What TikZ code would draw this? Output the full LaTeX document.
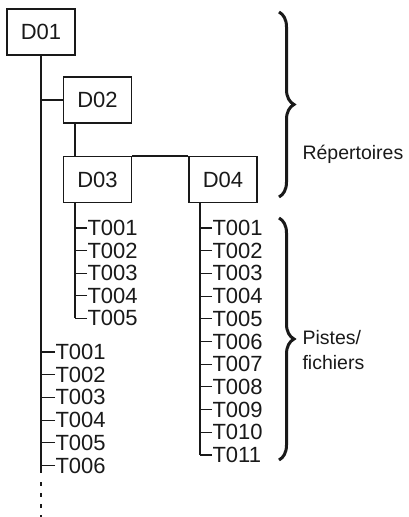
\documentclass[tikz,border=0pt]{standalone}
\usepackage{fontspec}
\setmainfont{Liberation Sans}
\usetikzlibrary{positioning,calc,decorations.pathreplacing}

\begin{document}
\begin{tikzpicture}[
    x=1pt, y=-1pt,
    line width=1.1pt, draw=black!90, text=black!90,
    dirbox/.style={rectangle, draw, minimum width=68pt, minimum height=46pt, font=\fontsize{22}{22}\selectfont},
    track/.style={anchor=west, inner sep=0pt, font=\fontsize{22}{22}\selectfont},
    side/.style={anchor=west, inner sep=0pt, align=left, font=\fontsize{19.5}{25}\selectfont},
    bigbrace/.style={decorate, decoration={brace, amplitude=15pt, aspect=0.5}, line width=3pt}
]
    \useasboundingbox (0,0) rectangle (409,517);

    % Directories
    \node[dirbox] (d01) at (41,32) {D01};
    \node[dirbox] (d02) at (97.5,100) {D02};
    \node[dirbox] (d03) at (97.5,179.5) {D03};
    \node[dirbox] (d04) at (223,179.5) {D04};

    % Trunks
    \coordinate (r1) at (41,473);
    \coordinate (r1dot) at (41,482);
    \coordinate (r1end) at (41,517);
    \coordinate (r3) at (75,203);
    \coordinate (r4) at (200,203);

    % Tracks
    \foreach \t [count=\i] in {T001,T002,T003,T004,T005,T006}
        \node[track] (a\i) at (55,{352+22.7*(\i-1)}) {\t};
    \foreach \t [count=\i] in {T001,T002,T003,T004,T005}
        \node[track] (b\i) at (87,{228+22.6*(\i-1)}) {\t};
    \foreach \t [count=\i] in {T001,T002,T003,T004,T005,T006,T007,T008,T009,T010,T011}
        \node[track] (c\i) at (212,{228+22.7*(\i-1)}) {\t};

    % Lines
    \draw (d01.south) -- (r1);
    \draw[dash pattern=on 4pt off 7pt] (r1dot) -- (r1end);
    \draw (d02.west) -- (d02.west -| d01.south);
    \draw (d02.south -| r3) -- (d03.north -| r3);
    \draw (d03.north east) -- (d04.north west);
    \draw (r3) -- (b5.west -| r3);
    \draw (r4) -- (c11.west -| r4);
    \foreach \i in {1,...,6}
        \draw (a\i.west) -- (a\i.west -| r1);
    \foreach \i in {1,...,5}
        \draw (b\i.west) -- (b\i.west -| r3);
    \foreach \i in {1,...,11}
        \draw (c\i.west) -- (c\i.west -| r4);

    % Braces
    \coordinate (br1top) at (279,12);
    \coordinate (br1bot) at (279,197);
    \coordinate (br2top) at (279,218);
    \coordinate (br2bot) at (279,460);
    \draw[bigbrace] (br1top) -- (br1bot);
    \draw[bigbrace] (br2top) -- (br2bot);

    \node[side] (rep) at (302,154) {Répertoires};
    \node[side] (pis) at (302,350) {Pistes/\\fichiers};
\end{tikzpicture}
\end{document}
